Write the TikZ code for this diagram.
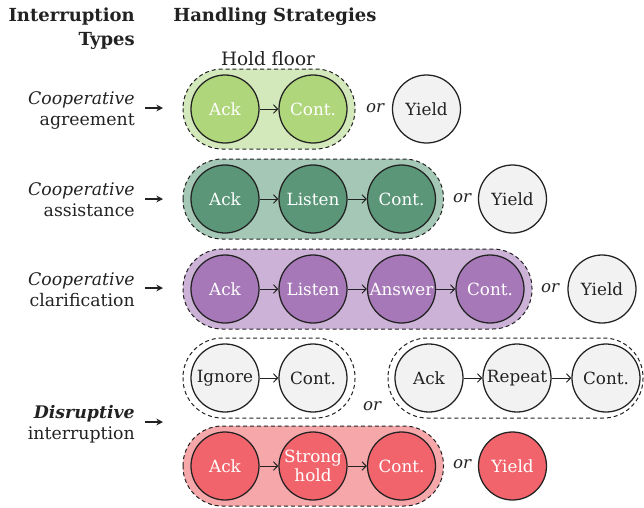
\documentclass[tikz,border=0pt]{standalone}
\usepackage{fontspec}
\setmainfont{DejaVu Serif}
\usetikzlibrary{arrows.meta,backgrounds,calc}
\definecolor{gAc}{HTML}{B0D67C}
\definecolor{gAp}{HTML}{D4E9BB}
\definecolor{gBc}{HTML}{5A9677}
\definecolor{gBp}{HTML}{A4C8B5}
\definecolor{pCc}{HTML}{A678B7}
\definecolor{pCp}{HTML}{CDB2D8}
\definecolor{rDc}{HTML}{F2646C}
\definecolor{rDp}{HTML}{F6A7AA}
\definecolor{gry}{HTML}{F2F2F2}
\definecolor{ink}{HTML}{222222}
\begin{document}
\begin{tikzpicture}[x=0.75pt,y=-0.75pt,
  stp/.style={circle, draw=ink, line width=0.95pt, minimum size=51pt, inner sep=0pt,
    font=\fontsize{12.6}{13.5}\selectfont, text=white},
  gstp/.style={stp, fill=gry, text=ink},
  pill/.style={draw=ink, dash pattern=on 3pt off 2.2pt, line width=0.75pt, rounded corners=29.5pt},
  flow/.style={draw=ink, line width=0.75pt, -{Straight Barb[length=3.2pt,width=6.5pt]}},
  lab/.style={align=right, anchor=east, inner sep=0pt, text=ink, font=\fontsize{13}{15.75}\selectfont},
  larr/.style={draw=ink, line width=0.9pt, -{Stealth[length=5pt,width=5pt]}},
  ortx/.style={text=ink, font=\fontsize{12.5}{13}\selectfont\itshape},
  ttl/.style={text=ink, inner sep=0pt, font=\fontsize{13.5}{18}\selectfont\bfseries}
]
\useasboundingbox (0,0) rectangle (644,508);

% titles
\node[ttl, align=right, anchor=north east] (t1) at (135,8) {Interruption\\Types};
\node[ttl, anchor=north west] (t2) at (173,8) {Handling Strategies};

% row 1
\node[stp, fill=gAc] (a1) at (225,109) {Ack};
\node[stp, fill=gAc] (a2) at (313,109) {Cont.};
\node[ortx] (o1) at (375,108) {or};
\node[gstp] (a3) at (426.5,109) {Yield};
\draw[flow] (a1) -- (a2);
\node[text=ink, font=\fontsize{13.8}{15}\selectfont, anchor=base] (hf) at (268,65) {Hold floor};
\node[lab] (l1) at (135,110) {\textit{Cooperative}\\agreement};
\coordinate (l1e) at (163,108);
\draw[larr] ($(l1.east)+(10,-2)$) coordinate (l1s) -- (l1e);

% row 2
\node[stp, fill=gBc] (b1) at (225,199) {Ack};
\node[stp, fill=gBc] (b2) at (313,199) {Listen};
\node[stp, fill=gBc] (b3) at (401.5,199) {Cont.};
\node[ortx] (o2) at (462,198) {or};
\node[gstp] (b4) at (512.5,199) {Yield};
\draw[flow] (b1) -- (b2);
\draw[flow] (b2) -- (b3);
\node[lab] (l2) at (135,200) {\textit{Cooperative}\\assistance};
\coordinate (l2e) at (163,199);
\draw[larr] ($(l2.east)+(10,-1)$) -- (l2e);

% row 3
\node[stp, fill=pCc] (c1) at (225,289) {Ack};
\node[stp, fill=pCc] (c2) at (313,289) {Listen};
\node[stp, fill=pCc] (c3) at (401.5,289) {Answer};
\node[stp, fill=pCc] (c4) at (490,289) {Cont.};
\node[ortx] (o3) at (550,288) {or};
\node[gstp] (c5) at (602,289) {Yield};
\draw[flow] (c1) -- (c2);
\draw[flow] (c2) -- (c3);
\draw[flow] (c3) -- (c4);
\node[lab] (l3) at (135,290) {\textit{Cooperative}\\clarification};
\coordinate (l3e) at (163,288);
\draw[larr] ($(l3.east)+(10,-2)$) -- (l3e);

% row 4
\node[gstp] (d1) at (225,378) {Ignore};
\node[gstp] (d2) at (313,378) {Cont.};
\node[ortx] (o4) at (372,406) {or};
\node[gstp] (d3) at (429,378) {Ack};
\node[gstp] (d4) at (517,378) {Repeat};
\node[gstp] (d5) at (606,378) {Cont.};
\draw[flow] (d1) -- (d2);
\draw[flow] (d3) -- (d4);
\draw[flow] (d4) -- (d5);

% row 5
\node[stp, fill=rDc] (e1) at (225,466) {Ack};
\node[stp, fill=rDc, align=center, font=\fontsize{12.6}{14.5}\selectfont] (e2) at (313,466) {Strong\\hold};
\node[stp, fill=rDc] (e3) at (401.5,466) {Cont.};
\node[ortx] (o5) at (462,464) {or};
\node[stp, fill=rDc] (e4) at (512.5,466) {Yield};
\draw[flow] (e1) -- (e2);
\draw[flow] (e2) -- (e3);

\node[lab] (l5) at (135,424) {\textbf{\textit{Disruptive}}\\interruption};
\coordinate (l5e) at (163,422);
\draw[larr] ($(l5.east)+(10,-2)$) -- (l5e);

% pills
\begin{scope}[on background layer]
\draw[pill, fill=gAp] ($(a1.center)+(-42,-40)$) rectangle ($(a2.center)+(42,40)$);
\draw[pill, fill=gBp] ($(b1.center)+(-42,-40)$) rectangle ($(b3.center)+(42,40)$);
\draw[pill, fill=pCp] ($(c1.center)+(-42,-40)$) rectangle ($(c4.center)+(42,40)$);
\draw[pill] ($(d1.center)+(-42,-40)$) rectangle ($(d2.center)+(42,40)$);
\draw[pill] ($(d3.center)+(-41,-40)$) rectangle ($(d5.center)+(37,40)$);
\draw[pill, fill=rDp] ($(e1.center)+(-42,-40)$) rectangle ($(e3.center)+(42,40)$);
\end{scope}
\end{tikzpicture}
\end{document}
